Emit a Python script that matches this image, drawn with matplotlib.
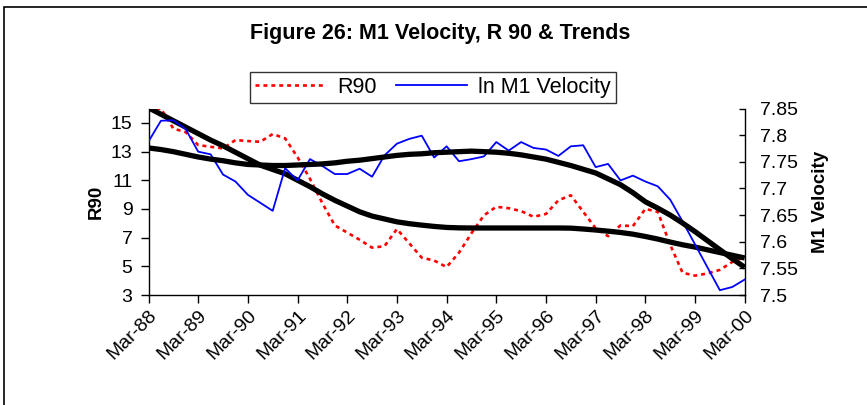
import matplotlib
matplotlib.use("Agg")
import matplotlib.pyplot as plt
from matplotlib.lines import Line2D
from matplotlib.patches import Rectangle
import numpy as np

plt.rcParams['font.family'] = ['Liberation Sans', 'DejaVu Sans']

# Quarterly data Mar-88 .. Mar-00
tick_labels = ["Mar-88", "Mar-89", "Mar-90", "Mar-91", "Mar-92", "Mar-93", "Mar-94",
               "Mar-95", "Mar-96", "Mar-97", "Mar-98", "Mar-99", "Mar-00"]

r90 = [15.9, 16.0, 14.6, 14.35, 13.45, 13.33, 13.22, 13.80, 13.73, 13.68, 14.22, 13.92,
       12.6, 11.1, 9.4, 7.85, 7.35, 6.85, 6.3, 6.4, 7.6, 6.6, 5.6, 5.4,
       4.95, 5.95, 7.3, 8.55, 9.15, 9.05, 8.85, 8.45, 8.65, 9.6, 9.95, 8.8,
       7.65, 7.1, 7.85, 7.8, 9.0, 8.8, 6.5, 4.55, 4.35, 4.5, 4.75, 5.3, 5.65]

ln_m1_velocity = [7.788, 7.827, 7.828, 7.811, 7.769, 7.764, 7.726, 7.713, 7.688, 7.673,
                  7.658, 7.738, 7.715, 7.755, 7.742, 7.727, 7.727, 7.737, 7.722, 7.762,
                  7.784, 7.793, 7.799, 7.758, 7.779, 7.751, 7.755, 7.760, 7.787, 7.771,
                  7.787, 7.776, 7.773, 7.761, 7.779, 7.781, 7.740, 7.746, 7.715, 7.724,
                  7.713, 7.704, 7.679, 7.638, 7.595, 7.552, 7.509, 7.515, 7.529]

r90_trend = [16.05, 15.6, 15.15, 14.7, 14.25, 13.8, 13.4, 12.95, 12.5, 12.05, 11.75, 11.45,
             11.0, 10.55, 10.05, 9.6, 9.2, 8.8, 8.5, 8.3, 8.1, 7.97, 7.87, 7.78,
             7.71, 7.68, 7.67, 7.67, 7.67, 7.67, 7.67, 7.67, 7.67, 7.67, 7.66, 7.6,
             7.53, 7.45, 7.36, 7.24, 7.08, 6.9, 6.69, 6.5, 6.34, 6.15, 5.96, 5.77, 5.58]

m1_trend = [7.776, 7.773, 7.769, 7.764, 7.759, 7.755, 7.752, 7.748, 7.745, 7.744,
            7.743, 7.743, 7.744, 7.745, 7.746, 7.748, 7.751, 7.753, 7.756, 7.759,
            7.762, 7.764, 7.765, 7.767, 7.768, 7.769, 7.770, 7.769, 7.768, 7.766,
            7.763, 7.759, 7.755, 7.749, 7.743, 7.736, 7.729, 7.718, 7.707, 7.692,
            7.675, 7.663, 7.650, 7.635, 7.619, 7.602, 7.585, 7.568, 7.552]

left_ticks = [3, 5, 7, 9, 11, 13, 15]
right_ticks = [7.5, 7.55, 7.6, 7.65, 7.7, 7.75, 7.8, 7.85]

W, H = 867, 405
fig = plt.figure(figsize=(W / 100, H / 100), dpi=100)

# outer chart frame (left and top visible)
fig.patches.append(Rectangle((4 / W, -0.1), 1.2, (1 - 7 / H) + 0.1, transform=fig.transFigure,
                             fill=False, edgecolor='black', linewidth=1.2))

x0, x1 = 148.5, 744.7
y_top, y_bot = 108.5, 295
ax = fig.add_axes([x0 / W, 1 - y_bot / H, (x1 - x0) / W, (y_bot - y_top) / H])
ax2 = ax.twinx()

x = np.arange(len(r90))

ax.plot(x, r90, color='#FF0000', linewidth=1.9, linestyle=(0, (1.5, 1.5)), zorder=3)
ax.plot(x, r90_trend, color='black', linewidth=3.8, solid_capstyle='butt', zorder=4)
ax2.plot(x, ln_m1_velocity, color='#0000FF', linewidth=1.3, zorder=3)
ax2.plot(x, m1_trend, color='black', linewidth=3.8, solid_capstyle='butt', zorder=4)

ax.set_xlim(0, 48)
ax.set_ylim(3, 16)
ax2.set_ylim(7.5, 7.85)

ax.set_yticks(left_ticks)
ax.set_yticklabels([str(v) for v in left_ticks])
ax2.set_yticks(right_ticks)
ax2.set_yticklabels([f"{v:g}" for v in right_ticks])

ax.set_xticks(np.arange(0, 49, 4))
ax.set_xticklabels(tick_labels, rotation=45, ha='right', rotation_mode='anchor')

for a in (ax, ax2):
    a.spines['top'].set_visible(False)
    a.set_facecolor('none')
ax.spines['right'].set_visible(False)
ax2.spines['left'].set_visible(False)
ax2.spines['bottom'].set_visible(False)
for s in ('left', 'bottom'):
    ax.spines[s].set_linewidth(1.0)
ax2.spines['right'].set_linewidth(1.0)

ax.tick_params(axis='y', direction='out', length=5.5, width=1.0, pad=6, labelsize=14)
ax.tick_params(axis='x', direction='out', length=5.5, width=1.0, pad=3, labelsize=14)
ax2.tick_params(axis='y', direction='in', length=4.5, width=1.0, pad=11, labelsize=14)

ax.set_ylabel("R90", fontsize=13.5, fontweight='bold', labelpad=4)
ax2.set_ylabel("M1 Velocity", fontsize=13.5, fontweight='bold', labelpad=10)

fig.text(440 / W, 1 - 33 / H, "Figure 26: M1 Velocity, R 90 & Trends", ha='center', va='center',
         fontsize=15.5, fontweight='bold')

handles = [Line2D([], [], color='#FF0000', linewidth=1.9, linestyle=(0, (1.5, 1.5))),
           Line2D([], [], color='#0000FF', linewidth=1.3)]
leg = fig.legend(handles, ["R90", "ln M1 Velocity"], ncol=2, loc='center',
                 bbox_to_anchor=(433 / W, 1 - 87.5 / H), frameon=True, fancybox=False,
                 edgecolor='black', fontsize=15.5, handlelength=3.3, handletextpad=0.5,
                 columnspacing=0.9, borderpad=0.25, borderaxespad=0)
leg.get_frame().set_linewidth(1.0)

fig.savefig("out.png", dpi=100)
